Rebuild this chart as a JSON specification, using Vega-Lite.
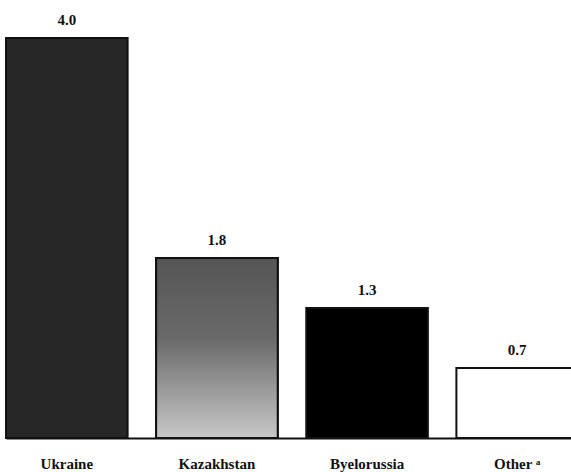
{
  "$schema": "https://vega.github.io/schema/vega-lite/v6.json",
  "width": 572,
  "height": 438,
  "autosize": "none",
  "padding": {"left": 6, "top": 0, "right": 0, "bottom": 34},
  "background": "white",
  "config": {"view": {"stroke": null}},
  "data": {"values": [
    {"country": "Ukraine", "value": 4.0, "label": "4.0"},
    {"country": "Kazakhstan", "value": 1.8, "label": "1.8"},
    {"country": "Byelorussia", "value": 1.3, "label": "1.3"},
    {"country": "Other ᵃ", "value": 0.7, "label": "0.7"}
  ]},
  "encoding": {
    "x": {"field": "country", "type": "nominal", "sort": null,
      "scale": {"paddingInner": 0.19, "paddingOuter": 0},
      "axis": {"title": null, "labelAngle": 0, "ticks": false, "domain": true, "domainColor": "#111", "domainWidth": 2,
        "labelFont": "Liberation Serif", "labelFontWeight": "bold", "labelFontSize": 15, "labelColor": "#111", "labelPadding": 18}},
    "y": {"field": "value", "type": "quantitative", "scale": {"domain": [0, 4.38], "nice": false}, "axis": null}
  },
  "layer": [
    {
      "mark": {"type": "bar", "stroke": "#111", "strokeWidth": 2},
      "encoding": {
        "fill": {"field": "country", "type": "nominal", "sort": null, "legend": null,
          "scale": {"domain": ["Ukraine", "Kazakhstan", "Byelorussia", "Other ᵃ"], "range": ["#262626", "#7a7a7a", "#000000", "#ffffff"]}}
      }
    },
    {
      "transform": [{"filter": "datum.country === 'Kazakhstan'"}],
      "mark": {"type": "bar", "stroke": "#111", "strokeWidth": 2,
        "fill": {"gradient": "linear", "x1": 0, "y1": 0, "x2": 0, "y2": 1,
          "stops": [{"offset": 0, "color": "#555555"}, {"offset": 0.45, "color": "#6a6a6a"}, {"offset": 1, "color": "#c8c8c8"}]}}
    },
    {
      "mark": {"type": "text", "dy": -18, "font": "Liberation Serif", "fontWeight": "bold", "fontSize": 15, "color": "#111"},
      "encoding": {"text": {"field": "label"}}
    }
  ]
}
